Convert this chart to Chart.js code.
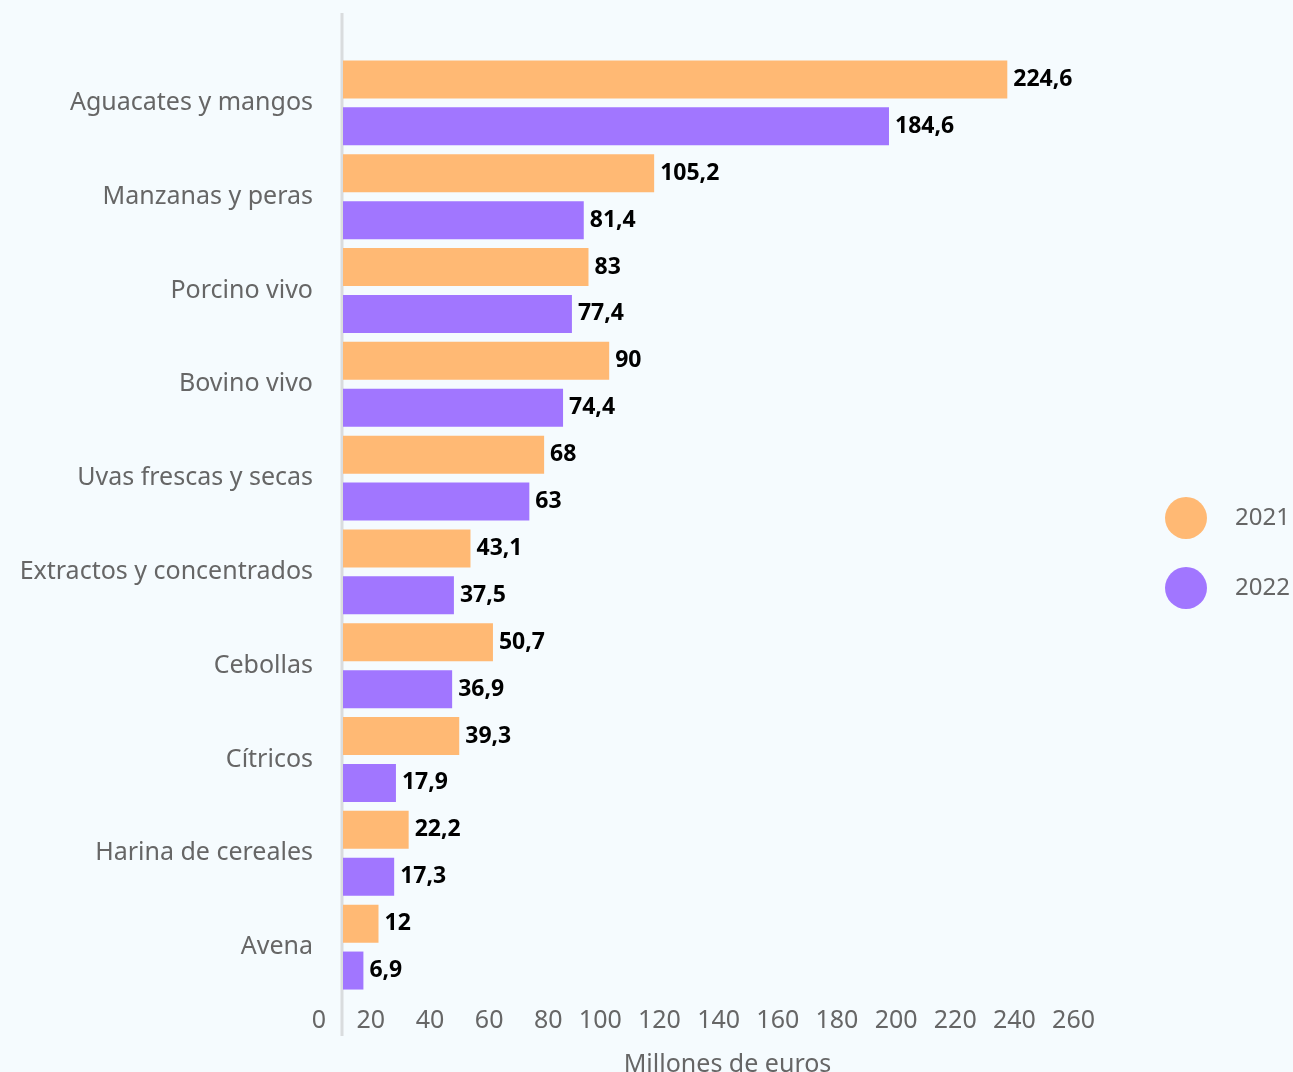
<!DOCTYPE html>
<html>
<head>
<meta charset="utf-8">
<script src="https://cdn.jsdelivr.net/npm/chart.js@4.4.0/dist/chart.umd.min.js"></script>
<style>
    html, body { margin: 0; padding: 0; background: #f5fbfe; overflow: hidden; }
</style>
</head>
<body>
<canvas id="myChart" width="1293" height="1080"></canvas>
<script>
// Datos para el gráfico
const categorias = ['Aguacates y mangos', 'Manzanas y peras', 'Porcino vivo', 'Bovino vivo', 'Uvas frescas y secas',
    'Extractos y concentrados', 'Cebollas', 'Cítricos', 'Harina de cereales', 'Avena'];
const valores2021 = [224.6, 105.2, 83, 90, 68, 43.1, 50.7, 39.3, 22.2, 12];
const valores2022 = [184.6, 81.4, 77.4, 74.4, 63, 37.5, 36.9, 17.9, 17.3, 6.9];
const ticksX = [0, 20, 40, 60, 80, 100, 120, 140, 160, 180, 200, 220, 240, 260];

const gris = '#666666';
Chart.defaults.font.family = "'Noto Sans', sans-serif";

// línea vertical del eje (sobresale del área de barras)
const lineaEje = {
    id: 'lineaEje',
    beforeDatasetsDraw(chart) {
        const { ctx, chartArea, scales } = chart;
        const px = scales.x.getPixelForValue(0) - 1;
        ctx.save();
        ctx.strokeStyle = '#d9dcde';
        ctx.lineWidth = 3;
        ctx.beginPath();
        ctx.moveTo(px, chartArea.top - 43);
        ctx.lineTo(px, chartArea.bottom + 42);
        ctx.stroke();
        ctx.restore();
    }
};

// etiquetas de valor al final de cada barra
const etiquetas = {
    id: 'etiquetas',
    afterDatasetsDraw(chart) {
        const ctx = chart.ctx;
        ctx.save();
        ctx.font = "bold 23px 'Noto Sans', sans-serif";
        ctx.fillStyle = '#000';
        ctx.textAlign = 'left';
        ctx.textBaseline = 'middle';
        chart.data.datasets.forEach((ds, i) => {
            chart.getDatasetMeta(i).data.forEach((bar, j) => {
                ctx.fillText(String(ds.data[j]).replace('.', ','), bar.x + 6, bar.y);
            });
        });
        ctx.restore();
    }
};

// leyenda con círculos a la derecha
const leyenda = {
    id: 'leyenda',
    afterDraw(chart) {
        const { ctx, chartArea } = chart;
        const mid = (chartArea.top + chartArea.bottom) / 2;
        ctx.save();
        chart.data.datasets.forEach((ds, i) => {
            const cy = mid - 7 + i * 70;
            ctx.fillStyle = ds.backgroundColor;
            ctx.beginPath();
            ctx.arc(chartArea.right + 74, cy, 21, 0, Math.PI * 2);
            ctx.fill();
            ctx.fillStyle = gris;
            ctx.font = "24px 'Noto Sans', sans-serif";
            ctx.textAlign = 'left';
            ctx.textBaseline = 'middle';
            ctx.fillText(ds.label, chartArea.right + 123, cy);
        });
        ctx.restore();
    }
};

const data = {
    labels: categorias,
    datasets: [{
        label: '2021',
        data: valores2021,
        backgroundColor: '#ffb974',
        barPercentage: 0.81,
        categoryPercentage: 1
    }, {
        label: '2022',
        data: valores2022,
        backgroundColor: '#a176ff',
        barPercentage: 0.81,
        categoryPercentage: 1
    }]
};

const options = {
    indexAxis: 'y',
    responsive: false,
    animation: false,
    layout: { padding: { top: 56, right: 181, left: 0, bottom: 0 } },
    plugins: {
        legend: { display: false },
        tooltip: { enabled: false }
    },
    scales: {
        x: {
            min: 0,
            max: 260,
            afterBuildTicks: s => { s.ticks = ticksX.map(v => ({ value: v })); },
            grid: { display: false, drawTicks: false },
            border: { display: false },
            ticks: { align: 'end', labelOffset: -17, padding: 12, color: gris, font: { size: 25 } },
            title: {
                display: true,
                text: 'Millones de euros',
                color: gris,
                font: { size: 25 },
                padding: { top: 2, bottom: 0 }
            }
        },
        y: {
            grid: { display: false, drawTicks: false },
            border: { display: false },
            ticks: { color: gris, font: { size: 25 }, padding: 30 },
            afterFit: s => { s.width = 343; }
        }
    }
};

const ctx = document.getElementById('myChart').getContext('2d');
const myChart = new Chart(ctx, {
    type: 'bar',
    data: data,
    options: options,
    plugins: [lineaEje, etiquetas, leyenda]
});
</script>
</body>
</html>
